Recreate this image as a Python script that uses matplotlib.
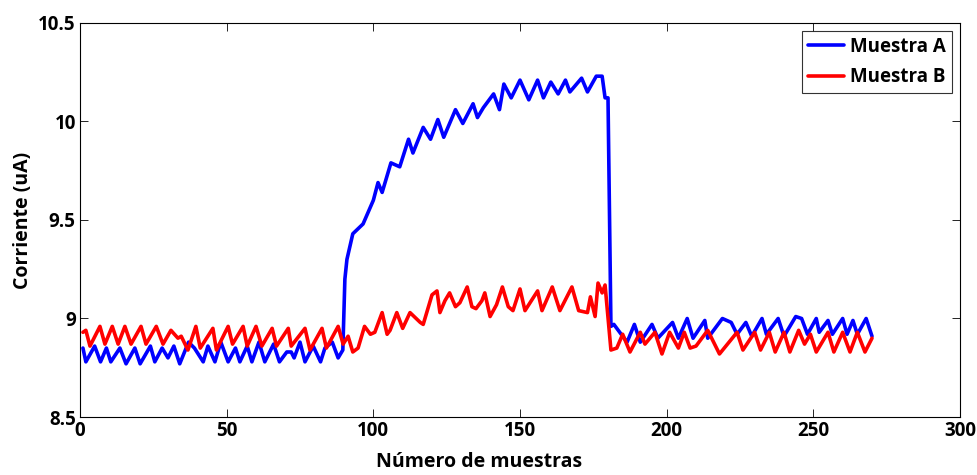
import matplotlib
matplotlib.use("Agg")
from matplotlib import pyplot as plt

# Muestra A (blue): sample index and current read at peaks / troughs
a_x = [1, 2, 5, 7, 9, 10.5, 13.6, 15.7, 18.7, 20.5, 24, 25.5, 28, 30, 32, 34,
       37, 39, 42, 43.6, 46, 48, 50.5, 53, 54.5, 57, 58.6, 61, 63, 66, 68,
       70.5, 72, 73, 75, 76.7, 79.5, 82, 83.5, 86, 88, 89.6,
       90.3, 91, 93, 96.5, 100, 101.6, 103, 106, 109, 112, 113.5, 117, 119.5,
       122, 124, 128, 130.5, 134, 135.5, 137.5, 141, 143, 144.5, 147, 150,
       153, 156, 158, 160.5, 163, 165.5, 167, 171, 173, 176, 178, 179, 180,
       181, 182, 186.5, 189, 191, 195, 197, 202, 204, 207, 209, 213, 214,
       219, 222, 224, 227, 229, 232.5, 234, 238, 240, 244, 246, 248, 251,
       252, 255, 256.5, 260, 261.5, 263.5, 265, 268, 270]
a_y = [8.85, 8.78, 8.86, 8.78, 8.85, 8.78, 8.85, 8.77, 8.85, 8.77, 8.86, 8.78,
       8.85, 8.80, 8.86, 8.77, 8.88, 8.85, 8.78, 8.86, 8.78, 8.88, 8.78,
       8.85, 8.78, 8.86, 8.78, 8.88, 8.78, 8.87, 8.78, 8.83, 8.83, 8.80,
       8.88, 8.78, 8.86, 8.78, 8.85, 8.88, 8.80, 8.84,
       9.20, 9.30, 9.43, 9.48, 9.60, 9.69, 9.64, 9.79, 9.77, 9.91, 9.84, 9.97,
       9.91, 10.01, 9.92, 10.06, 9.99, 10.09, 10.02, 10.07, 10.14, 10.06,
       10.19, 10.12, 10.21, 10.11, 10.21, 10.12, 10.20, 10.14, 10.21, 10.15,
       10.22, 10.15, 10.23, 10.23, 10.12, 10.12,
       8.96, 8.97, 8.88, 8.97, 8.88, 8.97, 8.90, 8.98, 8.90, 9.00, 8.90,
       8.99, 8.90, 9.00, 8.98, 8.92, 8.98, 8.91, 9.00, 8.92, 9.00, 8.91,
       9.01, 9.00, 8.92, 9.00, 8.93, 8.99, 8.92, 9.00, 8.92, 8.99, 8.92,
       9.00, 8.91]

# Muestra B (red)
b_x = [1, 2, 3.4, 6.8, 8.5, 11, 13, 15.3, 17.4, 20.8, 22.5, 26, 28.3, 31,
       33.4, 34.5, 36.8, 39.5, 41, 45.3, 46.5, 50.5, 52, 55.6, 57, 60, 62,
       65.5, 67, 71, 72, 76.7, 78.4, 82.5, 84, 88, 89.7, 91.4, 93, 94.8,
       97, 99, 100.5, 103, 104.7, 105.7, 108, 110, 112.5, 116, 117, 120,
       121.7, 122.7, 124.4, 126, 128, 129.5, 132, 133.6, 135, 137, 138,
       139.8, 142, 144, 146, 147.6, 150, 151.7, 156, 157.5, 161, 163.6,
       167.7, 170, 173, 174, 175.6, 176.6, 178, 179,
       181, 183, 185, 187.5, 191, 192.6, 196, 198.4, 201, 204, 206, 208,
       210, 214, 218, 224, 226, 230, 232, 235, 237, 240, 242, 245, 247,
       249, 251, 255, 257, 260, 262.5, 265, 267.6, 270]
b_y = [8.93, 8.94, 8.86, 8.96, 8.87, 8.96, 8.87, 8.96, 8.87, 8.96, 8.87,
       8.96, 8.87, 8.94, 8.90, 8.91, 8.84, 8.96, 8.85, 8.95, 8.84, 8.96,
       8.87, 8.96, 8.86, 8.96, 8.86, 8.95, 8.86, 8.95, 8.86, 8.95, 8.84,
       8.95, 8.85, 8.96, 8.87, 8.91, 8.83, 8.85,
       8.96, 8.92, 8.93, 9.03, 8.92, 8.94, 9.03, 8.95, 9.03, 8.98, 8.97,
       9.12, 9.14, 9.03, 9.09, 9.13, 9.06, 9.08, 9.16, 9.06, 9.05, 9.09,
       9.13, 9.01, 9.07, 9.16, 9.06, 9.04, 9.15, 9.04, 9.14, 9.04, 9.16,
       9.04, 9.16, 9.04, 9.03, 9.11, 9.01, 9.18, 9.13, 9.17,
       8.84, 8.85, 8.92, 8.83, 8.93, 8.87, 8.93, 8.82, 8.93, 8.85, 8.93,
       8.85, 8.86, 8.94, 8.82, 8.93, 8.84, 8.93, 8.84, 8.93, 8.83, 8.93,
       8.83, 8.94, 8.87, 8.92, 8.83, 8.93, 8.83, 8.93, 8.83, 8.93, 8.83,
       8.90]

x_ticks = [0, 50, 100, 150, 200, 250, 300]
y_ticks = [8.5, 9, 9.5, 10, 10.5]

plt.rcParams["font.family"] = ["Open Sans", "DejaVu Sans"]

fig = plt.figure(figsize=(9.78, 4.75), dpi=100)
ax = fig.add_axes([0.0818, 0.1221, 0.8998, 0.8295])

line_kw = dict(lw=2.6, solid_joinstyle="round", solid_capstyle="round")
ax.plot(a_x, a_y, color=(0, 0, 1), label="Muestra A", **line_kw)
ax.plot(b_x, b_y, color=(1, 0, 0), label="Muestra B", **line_kw)

ax.set_xlim(0, 300)
ax.set_ylim(8.5, 10.5)
ax.set_xticks(x_ticks)
ax.set_yticks(y_ticks)
ax.set_xticklabels([str(t) for t in x_ticks])
ax.set_yticklabels([f"{t:g}" for t in y_ticks])
ax.tick_params(direction="in", length=6, width=0.6, top=True, right=True,
               labelsize=13.5, pad=3)
for lab in ax.get_xticklabels() + ax.get_yticklabels():
    lab.set_fontweight("bold")
for s in ax.spines.values():
    s.set_linewidth(0.8)

ax.set_xlabel("Número de muestras", fontsize=14, fontweight="bold")
ax.xaxis.set_label_coords(0.453, -0.088)
ax.set_ylabel("Corriente (uA)", fontsize=14, fontweight="bold", labelpad=4)

leg = ax.legend(loc="upper right", fontsize=13.5, frameon=True, fancybox=False,
                edgecolor="black", borderpad=0.3, handlelength=1.9,
                handletextpad=0.35, borderaxespad=0.45, labelspacing=0.55)
leg.get_frame().set_linewidth(0.8)
for t in leg.get_texts():
    t.set_fontweight("bold")

fig.savefig("out.png", dpi=100)
